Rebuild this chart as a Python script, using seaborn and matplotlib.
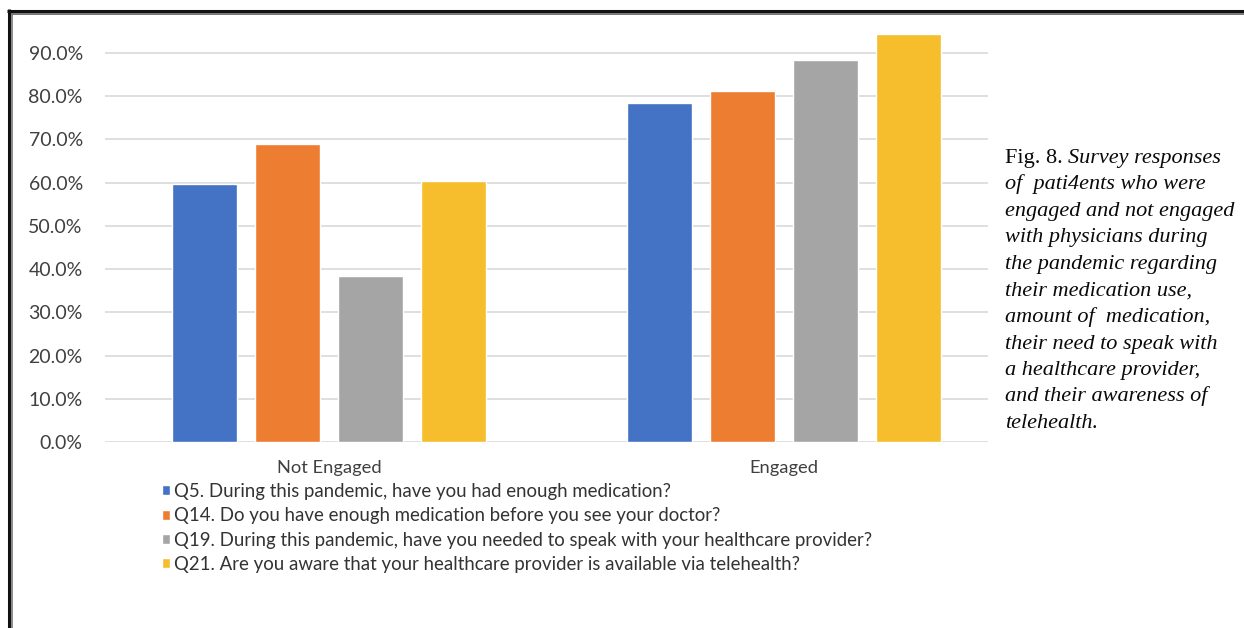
import matplotlib
matplotlib.use("Agg")
import matplotlib.pyplot as plt
from matplotlib.lines import Line2D
import seaborn as sns
import pandas as pd

# Survey results, share of "yes" answers per group
groups = ["Not Engaged", "Engaged"]
questions = [
    "Q5. During this pandemic, have you had enough medication?",
    "Q14. Do you have enough medication before you see your doctor?",
    "Q19. During this pandemic, have you needed to speak with your healthcare provider?",
    "Q21. Are you aware that your healthcare provider is available via telehealth?",
]
q5_values = [0.597, 0.785]
q14_values = [0.690, 0.813]
q19_values = [0.385, 0.884]
q21_values = [0.604, 0.944]
y_ticks = [0.0, 0.1, 0.2, 0.3, 0.4, 0.5, 0.6, 0.7, 0.8, 0.9]

caption_lines = [
    "Survey responses",
    "of  pati4ents who were",
    "engaged and not engaged",
    "with physicians during",
    "the pandemic regarding",
    "their medication use,",
    "amount of  medication,",
    "their need to speak with",
    "a healthcare provider,",
    "and their awareness of",
    "telehealth.",
]

palette = ["#4472C4", "#ED7D31", "#A5A5A5", "#F6BD2C"]

rows = []
for q, vals in zip(questions, [q5_values, q14_values, q19_values, q21_values]):
    for g, v in zip(groups, vals):
        rows.append({"group": g, "question": q, "value": v})
df = pd.DataFrame(rows)

sns.set_theme(style="white")
plt.rcParams["font.family"] = ["Lato", "DejaVu Sans"]

W, H = 1244, 628
fig = plt.figure(figsize=(W / 100, H / 100), dpi=100)
fig.patch.set_facecolor("white")

# axes placed in pixel terms
ax_left, ax_right, ax_top, ax_bottom = 105, 988, 20, 442
ax = fig.add_axes([ax_left / W, 1 - ax_bottom / H,
                   (ax_right - ax_left) / W, (ax_bottom - ax_top) / H])

sns.barplot(data=df, x="group", y="value", hue="question", order=groups,
            hue_order=questions, palette=palette, saturation=1,
            width=0.73, gap=0.22, errorbar=None, ax=ax)

px_per_unit = 455.0
c0 = 329.0
ax.set_xlim((ax_left - c0) / px_per_unit, (ax_right - c0) / px_per_unit)
ax.set_ylim(0, (ax_bottom - ax_top) / 432.3)

ax.set_yticks(y_ticks)
ax.set_yticklabels([f"{v * 100:.1f}%" for v in y_ticks])
ax.yaxis.grid(True, color="#d9d9d9", linewidth=1.2)
ax.set_axisbelow(True)
for s in ax.spines.values():
    s.set_visible(False)
ax.tick_params(axis="both", length=0, colors="#404040")
ax.tick_params(axis="y", pad=16, labelsize=14)
ax.tick_params(axis="x", pad=13, labelsize=13.2)
ax.set_xlabel("")
ax.set_ylabel("")

handles, labels = ax.get_legend_handles_labels()
ax.get_legend().remove()
fig.legend(handles, labels, loc="upper left",
           bbox_to_anchor=(162 / W, 1 - 483 / H), bbox_transform=fig.transFigure,
           frameon=False, fontsize=13.4, labelcolor="#333333",
           handlelength=0.45, handleheight=0.45, handletextpad=0.22,
           labelspacing=0.39, borderpad=0, borderaxespad=0)

# caption on the right
cap_x = 1005 / W
base0 = 163
step = 26.5
serif = ["Liberation Serif", "DejaVu Serif"]
fs_cap = 16
fig.text(cap_x, 1 - base0 / H, "Fig. 8. ", family=serif, fontsize=fs_cap,
         va="baseline", ha="left", color="#0a0a0a")
fig.text(cap_x + 63 / W, 1 - base0 / H, caption_lines[0], family=serif,
         style="italic", fontsize=fs_cap, va="baseline", ha="left",
         color="#0a0a0a")
for i, line in enumerate(caption_lines[1:], start=1):
    fig.text(cap_x, 1 - (base0 + i * step) / H, line, family=serif,
             style="italic", fontsize=fs_cap, va="baseline", ha="left",
             color="#0a0a0a")

# double frame lines along the top and left edges
def frame_line(x, y, color, lw):
    fig.add_artist(Line2D([p / W for p in x], [1 - p / H for p in y],
                          color=color, linewidth=lw, transform=fig.transFigure,
                          solid_capstyle="butt"))

frame_line([7, W], [10.5, 10.5], "#111111", 2.2)
frame_line([11, W], [14, 14], "#777777", 1.4)
frame_line([8.5, 8.5], [9, H], "#111111", 2.2)
frame_line([12, 12], [13, H], "#777777", 1.2)

fig.savefig("out.png", dpi=100, facecolor="white")
